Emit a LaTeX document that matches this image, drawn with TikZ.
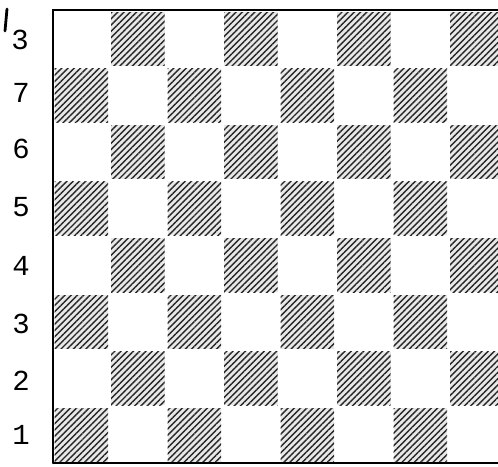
\documentclass[tikz,border=0pt]{standalone}
\usepackage{fontspec}
\setmainfont{Liberation Mono}
\usetikzlibrary{patterns.meta}

\begin{document}
\begin{tikzpicture}[
    x=0.5pt, y=-0.5pt,
    every node/.style={font=\fontsize{14.5}{16}\selectfont},
    darksq/.style={
        preaction={fill=gray!18},
        pattern={Lines[angle=45, distance=2.2pt, line width=0.7pt]},
        pattern color=black!85
    },
    rowlabel/.style={anchor=center, inner sep=0pt},
    rim/.style={line width=1.3pt, line cap=round}
]
\useasboundingbox (0,0) rectangle (498,466);

% dark squares, (row + column) even
\foreach \r in {1,...,8} {
    \foreach \c in {1,...,8} {
        \pgfmathtruncatemacro{\sqparity}{mod(\r+\c,2)}
        \ifnum\sqparity=0
            \path[darksq] ({53+(\c-1)*56.5+1.5},{10+(8-\r)*56.6+2})
                rectangle ({53+\c*56.5-1.5},{10+(9-\r)*56.6-1});
        \fi
    }
}

% board edges
\coordinate (tr) at (498,10);
\coordinate (tl) at (53,10);
\coordinate (bl) at (53,463);
\coordinate (br) at (498,463);
\draw[rim] (tr) -- (tl) -- (bl);
\draw[line width=0.8pt] (bl) -- (br);

% row numbers
\node[rowlabel] (r8) at (20,40) {3};
\node[rowlabel] (r7) at (21,93) {7};
\node[rowlabel] (r6) at (21,149) {6};
\node[rowlabel] (r5) at (21,207) {5};
\node[rowlabel] (r4) at (21,266) {4};
\node[rowlabel] (r3) at (21,324) {3};
\node[rowlabel] (r2) at (21,381) {2};
\node[rowlabel] (r1) at (21,435) {1};

% stray pen mark
\draw[line width=1.4pt, line cap=round] (5,31) -- (7,9);
\end{tikzpicture}
\end{document}
